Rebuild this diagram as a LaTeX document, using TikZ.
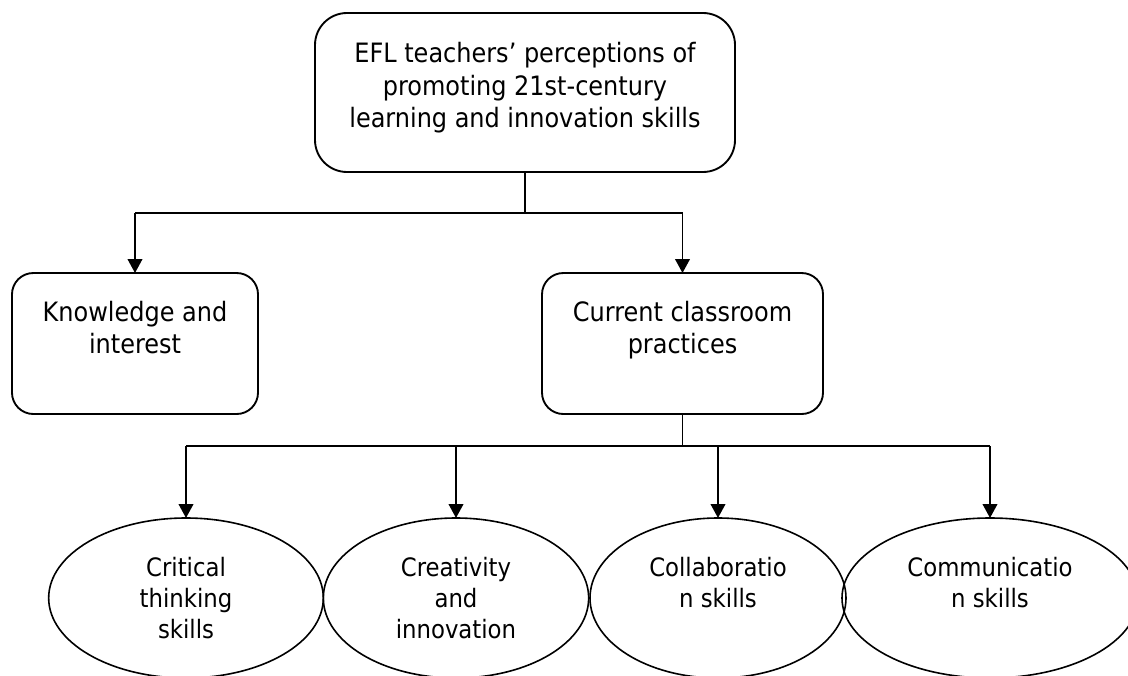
\documentclass[tikz,border=0pt]{standalone}
\usepackage{fontspec}
\setmainfont{DejaVu Sans Condensed}
\usetikzlibrary{shapes.geometric,arrows.meta}
\begin{document}
\begin{tikzpicture}[x=0.75pt,y=-0.75pt,
  every node/.style={inner sep=0pt,outer sep=0pt},
  rbox/.style={draw,line width=1.4pt,rounded corners=16pt,align=center,
    font=\fontsize{20}{24.4}\selectfont},
  oval/.style={draw,ellipse,line width=1.2pt,minimum height=120pt,align=center,
    font=\fontsize{19}{23.2}\selectfont},
  conn/.style={line width=1.4pt},
  arr/.style={line width=1.4pt,-{Triangle[width=11pt,length=10.5pt]}}]
\useasboundingbox (0,0) rectangle (1128,675);
\clip (0,0) rectangle (1128,675);

\node[rbox,rounded corners=24pt,minimum width=315pt,minimum height=119.25pt] (top) at (525,92.5)
  {EFL teachers’ perceptions of\\promoting 21st-century\\learning and innovation skills\rule[-11pt]{0pt}{11pt}};
\node[rbox,minimum width=184.5pt,minimum height=105.75pt] (kb) at (135,343.5)
  {Knowledge and\\interest\\\mbox{}};
\node[rbox,minimum width=210.75pt,minimum height=105.75pt] (cp) at (682.5,343.5)
  {Current classroom\\practices\\\mbox{}};

\node[oval,minimum width=206pt] (e1) at (186,598) {Critical\\thinking\\skills};
\node[oval,minimum width=199pt] (e2) at (456,598) {Creativity\\and\\innovation};
\node[oval,minimum width=192pt] (e3) at (718,598) {Collaboratio\\n skills\\\mbox{}};
\node[oval,minimum width=222pt] (e4) at (990,598) {Communicatio\\n skills\\\mbox{}};

\draw[conn] (top.south) -- ++(0,41) coordinate (j1);
\draw[conn] (kb.north |- j1) -- (cp.north |- j1);
\draw[arr] (kb.north |- j1) -- (kb.north);
\draw[arr] (cp.north |- j1) -- (cp.north);

\draw[conn] (cp.south) -- ++(0,32) coordinate (j2);
\draw[conn] (e1.north |- j2) -- (e4.north |- j2);
\draw[arr] (e1.north |- j2) -- (e1.north);
\draw[arr] (e2.north |- j2) -- (e2.north);
\draw[arr] (e3.north |- j2) -- (e3.north);
\draw[arr] (e4.north |- j2) -- (e4.north);
\end{tikzpicture}
\end{document}
